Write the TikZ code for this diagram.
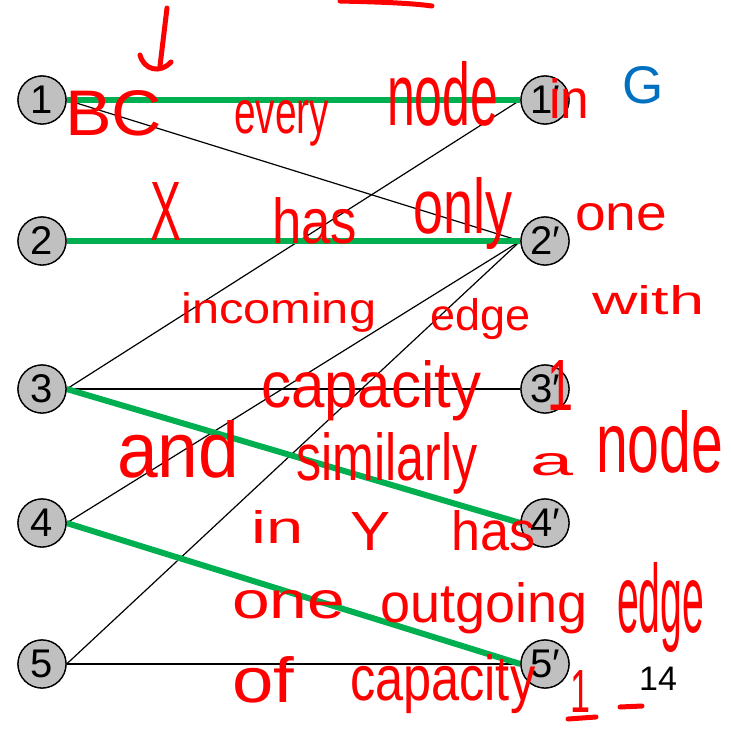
\documentclass[tikz,border=0pt]{standalone}
\usepackage{fontspec}
\usepackage{graphicx}
\setmainfont{Liberation Sans}
\newfontfamily\hwfont{Liberation Sans}
\definecolor{nodegray}{RGB}{192,192,192}
\definecolor{edgegreen}{RGB}{0,176,80}
\definecolor{gblue}{RGB}{0,112,192}
\definecolor{inkred}{RGB}{255,0,0}
\newcommand\hw[3]{\resizebox{#1pt}{#2pt}{\hwfont #3}}
\begin{document}
\begin{tikzpicture}[x=1pt,y=-1pt,
  vtx/.style={circle,draw=black,line width=1.3pt,fill=nodegray,minimum size=48pt,inner sep=0pt,font=\fontsize{40}{40}\selectfont},
  plain/.style={draw=black,line width=1.2pt},
  match/.style={draw=edgegreen,line width=6pt},
  ink/.style={text=inkred,inner sep=0pt,anchor=base west},
  inkstroke/.style={draw=inkred,line width=5pt,line cap=round,line join=round}]
\useasboundingbox (0,0) rectangle (731,731);
% vertices
\node[vtx] (l1) at (42,100) {1};
\node[vtx] (l2) at (42,241) {2};
\node[vtx] (l3) at (42,389) {3};
\node[vtx] (l4) at (42,523) {4};
\node[vtx] (l5) at (42,664) {5};
\node[vtx] (r1) at (545,100) {1′};
\node[vtx] (r2) at (545,241) {2′};
\node[vtx] (r3) at (545,389) {3′};
\node[vtx] (r4) at (545,523) {4′};
\node[vtx] (r5) at (545,664) {5′};
% edges
\draw[plain] (l1.east) -- (r2.west);
\draw[plain] (l3.east) -- (r1.west);
\draw[plain] (l3.east) -- (r3.west);
\draw[plain] (l4.east) -- (r2.west);
\draw[plain] (l5.east) -- (r2.west);
\draw[plain] (l5.east) -- (r5.west);
\draw[match] (l1.east) -- (r1.west);
\draw[match] (l2.east) -- (r2.west);
\draw[match] (l3.east) -- (r4.west);
\draw[match] (l4.east) -- (r5.west);
% redraw vertices on top of edges
\foreach \n/\t in {l1/1,l2/2,l3/3,l4/4,l5/5}{\node[vtx] at (\n) {\t};}
\foreach \n/\t in {r1/1,r2/2,r3/3,r4/4,r5/5}{\node[vtx] at (\n) {\t′};}
% labels
\node[text=gblue,font=\fontsize{53}{53}\selectfont,inner sep=0pt] (glabel) at (643,85) {G};
\node[font=\fontsize{34}{34}\selectfont,inner sep=0pt] (pagenum) at (658,679) {14};
% handwriting
\node[ink] (w1) at (65,135) {\hw{97}{45}{BC}};
\node[ink] (w2) at (234,133) {\hw{95}{33}{every}};
\node[ink] (w3) at (387,125) {\hw{111}{64}{node}};
\node[ink] (w4) at (549,118) {\hw{40}{40}{in}};
\node[ink] (w5) at (150,240) {\hw{31}{58}{X}};
\node[ink] (w6) at (272,243) {\hw{85}{46}{has}};
\node[ink] (w7) at (413,233) {\hw{99}{56}{only}};
\node[ink] (w8) at (575,230) {\hw{92}{27}{one}};
\node[ink] (w9) at (181,323) {\hw{195}{31}{incoming}};
\node[ink] (w10) at (430,330) {\hw{100}{32}{edge}};
\node[ink] (w11) at (592,314) {\hw{112}{29}{with}};
\node[ink] (w12) at (261,407) {\hw{220}{47}{capacity}};
\node[ink] (w13) at (547,410) {\hw{26}{50}{1}};
\node[ink] (w14) at (117,477) {\hw{122}{57}{and}};
\node[ink] (w15) at (296,480) {\hw{181}{48}{similarly}};
\node[ink] (w16) at (530,475) {\hw{43}{22}{a}};
\node[ink] (w17) at (596,472) {\hw{127}{62}{node}};
\node[ink] (w18) at (251,543) {\hw{52}{33}{in}};
\node[ink] (w19) at (350,550) {\hw{40}{38}{Y}};
\node[ink] (w20) at (451,550) {\hw{84}{40}{has}};
\node[ink] (w21) at (232,618) {\hw{113}{28}{one}};
\node[ink] (w22) at (380,622) {\hw{207}{40}{outgoing}};
\node[ink] (w23) at (617,632) {\hw{87}{70}{edge}};
\node[ink] (w24) at (232,702) {\hw{62}{46}{of}};
\node[ink] (w25) at (350,700) {\hw{185}{46}{capacity}};
\node[ink] (w26) at (570,712) {\hw{20}{42}{1}};
% ink strokes
\draw[inkstroke] (340,1) .. controls (380,2) and (410,3) .. (432,6);
\draw[inkstroke] (167,8) -- (160,66);
\draw[inkstroke] (140,55) .. controls (144,70) and (160,74) .. (171,62);
\draw[inkstroke] (568,719) -- (596,717);
\draw[inkstroke] (620,707) -- (642,706);
\end{tikzpicture}
\end{document}
